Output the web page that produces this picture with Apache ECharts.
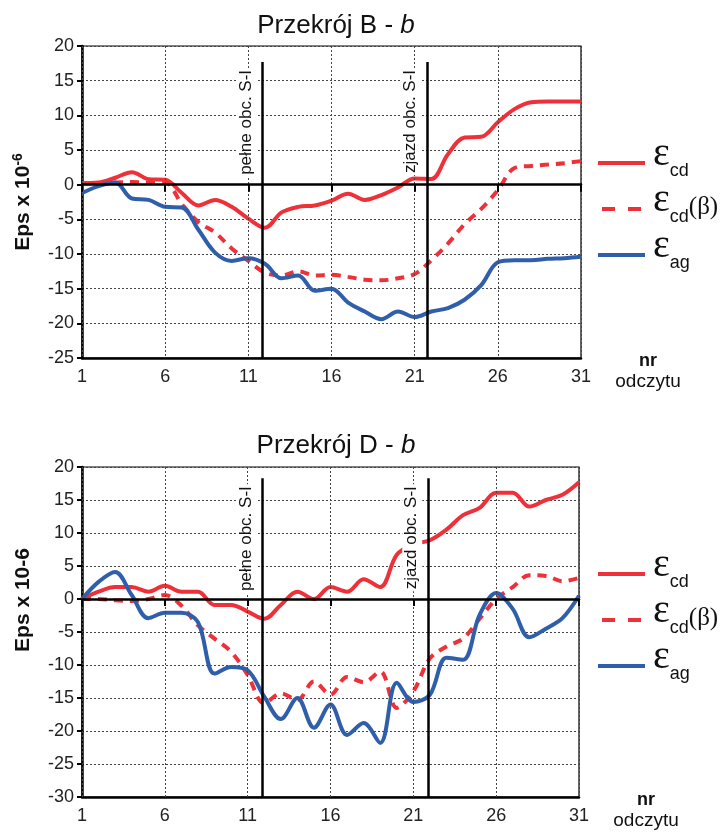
<!DOCTYPE html>
<html>
<head>
<meta charset="utf-8">
<script src="https://cdn.jsdelivr.net/npm/echarts@6/dist/echarts.min.js"></script>
<style>
  html, body { margin: 0; padding: 0; background: #ffffff; }
  #chart { width: 725px; height: 835px; }
</style>
</head>
<body>
<div id="chart"></div>
<script>
// Reading numbers (nr odczytu)
const readings = [1, 2, 3, 4, 5, 6, 7, 8, 9, 10, 11, 12, 13, 14, 15, 16, 17, 18, 19, 20,
                  21, 22, 23, 24, 25, 26, 27, 28, 29, 30, 31];

// Section B-b strains (x 10^-6)
const cdB     = [0.2, 0.3, 1.0, 1.8, 0.8, 0.7, -1.2, -3.0, -2.2, -3.2, -4.9, -6.2, -4.0, -3.2, -3.0, -2.3,
                 -1.3, -2.2, -1.5, -0.4, 0.9, 0.8, 4.4, 6.8, 6.9, 9.0, 10.9, 11.9, 12.0, 12.0, 12.0];
const cdBetaB = [0.2, 0.2, 0.3, 0.4, 0.3, 0.3, -2.8, -5.4, -6.9, -9.2, -11.0, -12.7, -13.1, -12.5, -13.1, -13.0,
                 -13.3, -13.7, -13.8, -13.5, -12.9, -10.9, -8.5, -5.7, -3.5, -0.8, 2.4, 2.7, 2.9, 3.1, 3.4];
const agB     = [-1.2, -0.2, 0.3, -2.0, -2.2, -3.2, -3.3, -6.5, -9.8, -11.0, -10.6, -11.4, -13.5, -13.1, -15.3, -15.0,
                 -17.0, -18.3, -19.4, -18.3, -19.1, -18.3, -17.8, -16.6, -14.5, -11.2, -10.9, -10.9, -10.7, -10.6, -10.4];

// Section D-b strains (x 10^-6)
const cdD     = [0.0, 1.1, 1.8, 1.8, 1.1, 2.0, 1.1, 1.1, -0.9, -0.9, -1.9, -3.0, -0.9, 1.1, 0.0, 1.8,
                 1.1, 3.0, 1.8, 6.7, 8.3, 8.9, 10.5, 12.7, 13.8, 16.1, 16.1, 14.0, 15.0, 15.8, 17.7];
const cdBetaD = [0.0, 0.0, -0.2, -0.3, 0.0, 0.6, -1.0, -4.0, -6.0, -8.0, -11.5, -15.8, -14.3, -15.3, -12.5, -14.5,
                 -11.8, -12.6, -11.0, -16.5, -14.0, -9.0, -7.2, -6.0, -3.0, 0.0, 1.8, 3.6, 3.5, 2.7, 3.2];
const agD     = [0.0, 2.6, 4.1, 0.6, -2.9, -2.1, -2.1, -3.5, -11.3, -10.3, -10.8, -14.8, -18.2, -15.0, -19.5, -16.0,
                 -20.6, -18.8, -21.8, -12.7, -15.6, -14.5, -8.9, -9.2, -2.4, 0.9, -1.5, -5.8, -4.5, -2.9, 0.5];

// Load-event markers (reading positions) and their captions
const loadMarksB = [11.85, 21.76];
const loadMarksD = [11.9, 21.9];
const loadLabels = ['pełne obc. S-I', 'zjazd obc. S-I'];
const markTopB = 17.7;
const markTopD = 18.3;

// Axis ranges
const yRangeB = [-25, 20];
const yRangeD = [-30, 20];
const yStep = 5;
const xStep = 5;

const seriesNames = ['εcd', 'εcd(β)', 'εag'];
const titlesMain = ['Przekrój B - ', 'Przekrój D - '];

const RED = '#ee3039';
const BLUE = '#2f5eab';
const FONT = 'Liberation Sans, Arial, sans-serif';
const SERIF = 'Liberation Serif, Times New Roman, serif';

const x0 = readings[0];
const pairs = vals => readings.map((r, i) => [r - x0, vals[i]]);

function markLineFor(marks, yMin, yTop) {
  return {
    silent: true,
    animation: false,
    symbol: 'none',
    lineStyle: { color: '#000', width: 2.5, type: 'solid' },
    label: {
      show: true,
      position: 'insideEndTop',
      distance: 6,
      color: '#111',
      fontFamily: FONT,
      fontSize: 17,
      backgroundColor: '#ffffff',
      padding: [1, 2, 2, 2],
      formatter: p => p.data.caption
    },
    data: marks.map((m, i) => [
      { coord: [m - x0, yMin], caption: loadLabels[i] },
      { coord: [m - x0, yTop] }
    ])
  };
}

function makeSeries(gridIdx, cd, cdBeta, ag, marks, yMin, yTop) {
  const base = {
    type: 'line',
    xAxisIndex: gridIdx * 2,
    yAxisIndex: gridIdx,
    showSymbol: false,
    smooth: 0.35,
    animation: false,
    z: 3
  };
  return [
    Object.assign({}, base, {
      name: seriesNames[0], data: pairs(cd),
      itemStyle: { color: RED },
      lineStyle: { color: RED, width: 4 }
    }),
    Object.assign({}, base, {
      name: seriesNames[1], data: pairs(cdBeta),
      itemStyle: { color: RED },
      lineStyle: { color: RED, width: 4, type: [9, 7] }
    }),
    Object.assign({}, base, {
      name: seriesNames[2], data: pairs(ag),
      itemStyle: { color: BLUE },
      lineStyle: { color: BLUE, width: 4 },
      markLine: markLineFor(marks, yMin, yTop)
    })
  ];
}

const splitDotted = { show: true, lineStyle: { color: '#444', width: 1, type: [2, 2] } };

function xAxesFor(gridIdx) {
  const common = {
    type: 'value', gridIndex: gridIdx,
    min: 0, max: readings[readings.length - 1] - x0, interval: xStep
  };
  return [
    // zero line with downward ticks
    Object.assign({}, common, {
      axisLine: { show: true, onZero: true, lineStyle: { color: '#000', width: 2.5 } },
      axisTick: { show: true, length: 7, lineStyle: { color: '#000', width: 2 } },
      axisLabel: { show: false },
      splitLine: splitDotted,
      z: 4
    }),
    // bottom frame carrying the reading labels
    Object.assign({}, common, {
      position: 'bottom',
      axisLine: { show: true, onZero: false, lineStyle: { color: '#000', width: 2.5 } },
      axisTick: { show: false },
      splitLine: { show: false },
      axisLabel: {
        show: true, margin: 10, color: '#222', fontFamily: FONT, fontSize: 18,
        showMinLabel: true, showMaxLabel: true,
        formatter: v => String(v + x0)
      },
      name: '{b|nr}\n{n|odczytu}',
      nameLocation: 'end',
      nameGap: 67,
      nameTextStyle: {
        align: 'center', verticalAlign: 'middle', padding: [28, 0, 0, 0],
        rich: {
          b: { fontFamily: FONT, fontSize: 18, fontWeight: 'bold', color: '#111', lineHeight: 20, align: 'center' },
          n: { fontFamily: FONT, fontSize: 19, color: '#111', lineHeight: 21, align: 'center' }
        }
      }
    })
  ];
}

function yAxisFor(gridIdx, range, name, namePad) {
  return {
    type: 'value', gridIndex: gridIdx,
    min: range[0], max: range[1], interval: yStep,
    axisLine: { show: true, lineStyle: { color: '#000', width: 2.5 } },
    axisTick: { show: true, length: 5, lineStyle: { color: '#000', width: 2 } },
    axisLabel: { margin: 8, color: '#222', fontFamily: FONT, fontSize: 18 },
    splitLine: splitDotted,
    name: name,
    nameLocation: 'middle',
    nameGap: 46,
    nameTextStyle: {
      padding: namePad,
      rich: {
        t: { fontFamily: FONT, fontSize: 21, fontWeight: 'bold', color: '#111', lineHeight: 25 },
        u: { fontFamily: FONT, fontSize: 14, fontWeight: 'bold', color: '#111', verticalAlign: 'top', lineHeight: 25 }
      }
    }
  };
}

function legendFor(top) {
  return {
    left: 593, top: top, orient: 'vertical',
    itemWidth: 47, itemHeight: 4, itemGap: 0,
    selectedMode: false,
    data: [
      { name: seriesNames[0], icon: 'rect' },
      { name: seriesNames[1], icon: 'path://M0,0h13v4h-13z M26,0h13v4h-13z' },
      { name: seriesNames[2], icon: 'rect' }
    ],
    formatter: n => {
      if (n === seriesNames[0]) return '{e|ε}{s|cd}';
      if (n === seriesNames[1]) return '{e|ε}{s|cd}{p|(β)}';
      return '{e|ε}{s|ag}';
    },
    textStyle: {
      rich: {
        e: { fontFamily: SERIF, fontSize: 40, color: '#111',
             lineHeight: 34, verticalAlign: 'bottom', padding: [0, 0, 6, 3] },
        s: { fontFamily: FONT, fontSize: 18, color: '#111', lineHeight: 18, verticalAlign: 'bottom' },
        p: { fontFamily: SERIF, fontSize: 25, color: '#111',
             lineHeight: 26, verticalAlign: 'bottom', padding: [0, 0, 6, 0] }
      }
    }
  };
}

function titleFor(idx, top) {
  return {
    text: titlesMain[idx] + '{i|b}',
    left: 331, top: top, textAlign: 'center',
    textStyle: {
      fontFamily: FONT, fontSize: 26, fontWeight: 'normal', color: '#111',
      rich: { i: { fontFamily: FONT, fontSize: 26, fontStyle: 'italic', color: '#111' } }
    }
  };
}

const chart = echarts.init(document.getElementById('chart'), null, { renderer: 'canvas' });
chart.setOption({
  backgroundColor: '#ffffff',
  animation: false,
  title: [titleFor(0, 8), titleFor(1, 428)],
  legend: [legendFor(129), legendFor(540)],
  grid: [
    { left: 82, top: 46, width: 499, height: 312, show: true, borderColor: '#000', borderWidth: 1.2, backgroundColor: 'transparent' },
    { left: 82, top: 467, width: 497, height: 330, show: true, borderColor: '#000', borderWidth: 1.2, backgroundColor: 'transparent' }
  ],
  xAxis: xAxesFor(0).concat(xAxesFor(1)),
  yAxis: [
    yAxisFor(0, yRangeB, '{t|Eps x 10}{u|-6}', [0, 0, 0, 0]),
    yAxisFor(1, yRangeD, '{t|Eps x 10-6}', [0, 0, 0, 64])
  ],
  series: makeSeries(0, cdB, cdBetaB, agB, loadMarksB, yRangeB[0], markTopB)
    .concat(makeSeries(1, cdD, cdBetaD, agD, loadMarksD, yRangeD[0], markTopD))
});
</script>
</body>
</html>
